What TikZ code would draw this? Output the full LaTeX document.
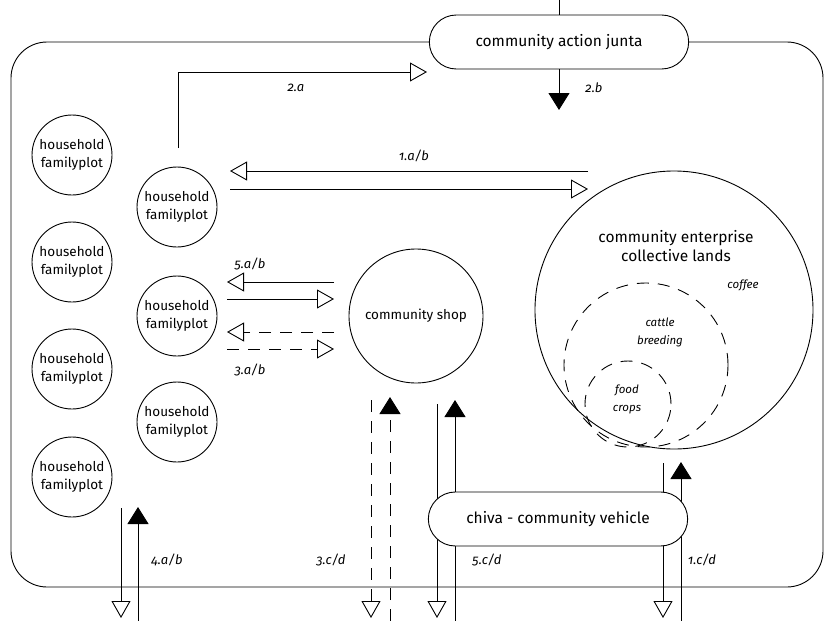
\documentclass[tikz,border=0pt]{standalone}
\usepackage{fontspec}
\setmainfont{Fira Sans}[Numbers=OldStyle]
\usetikzlibrary{arrows.meta,shapes.misc}
\tikzset{
  x=1pt,y=-1pt,
  every path/.style={line width=0.9pt},
  hh/.style={circle,draw,minimum size=80pt,inner sep=0pt,align=center,font=\fontsize{13.5}{18}\selectfont},
  pill/.style={rounded rectangle,draw,fill=white,minimum width=266pt,minimum height=54pt,font=\fontsize{15.5}{18}\selectfont},
  lbl/.style={font=\fontsize{13}{15}\selectfont\itshape},
  inlbl/.style={align=center,font=\fontsize{11.5}{18}\selectfont\itshape},
  oarr/.style={-{Triangle[open,length=17pt,width=19pt]}},
  farr/.style={-{Triangle[length=17pt,width=21pt]}},
  dsh/.style={dash pattern=on 12pt off 9pt},
}
\begin{document}
\begin{tikzpicture}
\useasboundingbox (0,0) rectangle (828,621);
% outer boundary
\draw[rounded corners=36pt] (11,42) rectangle (823,587);
% top line to junta
\coordinate (topend) at (559,0);
\node[pill] (junta) at (559,42) {community action junta};
\draw (topend) -- (junta.north);
% households
\node[hh] (h1) at (72,155) {household\\familyplot};
\node[hh] (h2) at (72,262) {household\\familyplot};
\node[hh] (h3) at (72,369) {household\\familyplot};
\node[hh] (h4) at (72,477) {household\\familyplot};
\node[hh] (h5) at (177,207) {household\\familyplot};
\node[hh] (h6) at (177,316) {household\\familyplot};
\node[hh] (h7) at (177,422) {household\\familyplot};
% 2.a / 2.b
\coordinate (a2s) at (178,148);
\coordinate (a2e) at (427,72);
\draw[oarr] (a2s) |- (a2e);
\node[lbl] at (296,88) {2.a};
\coordinate (b2e) at (559,110);
\draw[farr] (junta.south) -- (b2e);
\node[lbl] at (594,88) {2.b};
% enterprise
\node[circle,draw,minimum size=278pt,inner sep=0pt] (ent) at (674,310) {};
\node[align=center,font=\fontsize{15.5}{19}\selectfont] (entt) at (676,246) {community enterprise\\collective lands};
\node[lbl,font=\fontsize{11.5}{14}\selectfont\itshape] (coffee) at (743,285) {coffee};
\node[circle,draw,dsh,minimum size=164pt,inner sep=0pt] (cattle) at (646,365) {};
\node[inlbl] (cattlet) at (660,332) {cattle\\breeding};
\node[circle,draw,dsh,minimum size=86pt,inner sep=0pt] (food) at (628,404) {};
\node[inlbl] (foodt) at (627,399) {food\\crops};
% 1.a/b
\coordinate (p1a) at (588,171); \coordinate (p1b) at (230,171);
\coordinate (p1c) at (230,189); \coordinate (p1d) at (588,189);
\draw[oarr] (p1a) -- (p1b);
\draw[oarr] (p1c) -- (p1d);
\node[lbl] at (414,156) {1.a/b};
% shop
\node[circle,draw,minimum size=134pt,inner sep=0pt,font=\fontsize{13.5}{16}\selectfont] (shop) at (416,316) {community shop};
% 5.a/b
\coordinate (p5a) at (334,282); \coordinate (p5b) at (227,282);
\coordinate (p5c) at (227,299); \coordinate (p5d) at (334,299);
\draw[oarr] (p5a) -- (p5b);
\draw[oarr] (p5c) -- (p5d);
\node[lbl] at (250,264) {5.a/b};
% 3.a/b
\coordinate (p3a) at (334,332); \coordinate (p3b) at (227,332);
\coordinate (p3c) at (227,349); \coordinate (p3d) at (334,349);
\draw[oarr,dsh] (p3a) -- (p3b);
\draw[oarr,dsh] (p3c) -- (p3d);
\node[lbl] at (250,370) {3.a/b};
% bottom verticals
\coordinate (v4a) at (121,508); \coordinate (v4b) at (121,618);
\coordinate (v4c) at (138,621); \coordinate (v4d) at (138,507);
\draw[oarr] (v4a) -- (v4b);
\draw[farr] (v4c) -- (v4d);
\node[lbl] at (167,560) {4.a/b};
\coordinate (v3a) at (371,400); \coordinate (v3b) at (371,618);
\coordinate (v3c) at (390,621); \coordinate (v3d) at (390,397);
\draw[oarr,dsh] (v3a) -- (v3b);
\draw[farr,dsh] (v3c) -- (v3d);
\node[lbl] at (331,560) {3.c/d};
\coordinate (v5a) at (437,404); \coordinate (v5b) at (437,618);
\coordinate (v5c) at (455,621); \coordinate (v5d) at (455,400);
\draw[oarr] (v5a) -- (v5b);
\draw[farr] (v5c) -- (v5d);
\node[lbl] at (487,560) {5.c/d};
\coordinate (v1a) at (663,463); \coordinate (v1b) at (663,618);
\coordinate (v1c) at (681,621); \coordinate (v1d) at (681,462);
\draw[oarr] (v1a) -- (v1b);
\draw[farr] (v1c) -- (v1d);
\node[lbl] at (702,560) {1.c/d};
% chiva
\node[pill] (chiva) at (558,519) {chiva - community vehicle};
\end{tikzpicture}
\end{document}
